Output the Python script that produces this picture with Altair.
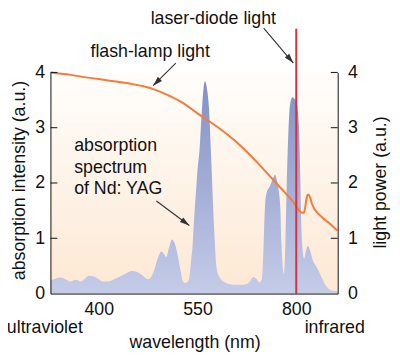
import math
import altair as alt
import numpy as np
import pandas as pd

# x scale breakpoints (nm) and the matching positions across the plot width
x_domain = [326.5, 400, 550, 800, 905]
x_range = [0, 49, 149, 249, 291]
x_ticks = [400, 550, 800]
y_ticks = [0, 1, 2, 3, 4]
inner_ticks = [1, 2, 3, 4]

# Nd:YAG absorption spectrum (a.u.)
abs_nm = [327, 334, 342.5, 350, 357.5, 365, 372.5, 379, 385, 392.5, 400, 406, 415, 427,
          439, 450, 458.5, 465, 475, 479.5, 485, 490, 495, 499, 502.5, 506.5, 511, 515.5,
          520, 524.5, 528, 532.5, 537.5, 540, 542.5, 545, 547.5, 550, 555, 560, 565, 569,
          574, 579, 582.5, 586, 590, 594, 597.5, 604, 617, 642, 665, 680, 692, 700, 706,
          712.5, 717.5, 721, 725, 733, 742, 746, 751, 756, 760, 762.5, 769, 772.5, 776,
          780, 784, 790, 796, 801, 807, 810, 813, 816, 820, 824, 829, 834, 842, 850,
          857.5, 865, 875, 885, 895, 905]
abs_val = [0.24, 0.27, 0.29, 0.25, 0.22, 0.25, 0.22, 0.27, 0.32, 0.31, 0.26, 0.22, 0.22, 0.28,
           0.35, 0.41, 0.39, 0.34, 0.26, 0.30, 0.46, 0.65, 0.76, 0.72, 0.66, 0.82, 0.98, 0.90,
           0.69, 0.40, 0.22, 0.19, 0.28, 0.57, 0.87, 1.4, 1.82, 2.24, 2.6, 3.2, 3.7, 3.84,
           3.7, 3.35, 2.8, 2.2, 1.5, 0.9, 0.5, 0.32, 0.21, 0.16, 0.16, 0.2, 0.3, 0.26, 0.2,
           0.25, 0.9, 1.6, 1.82, 1.94, 2.1, 2.15, 2.05, 1.85, 1.5, 0.9, 0.35, 0.9, 2.0,
           2.9, 3.4, 3.55, 3.52, 3.45, 3.0, 2.2, 1.2, 0.8, 0.63, 0.75, 0.86, 0.8, 0.6, 0.5,
           0.4, 0.28, 0.14, 0.07, 0.05, 0.04]

# flash-lamp light power (a.u.)
lamp_nm = [327.5, 340, 355, 375, 400, 422.5, 450, 467.5, 485, 505, 527.5, 550, 583, 625,
           667, 708, 750, 775, 792, 804, 812.5, 819, 822.5, 826, 830, 835, 840, 846, 855,
           867, 875, 882.5, 890, 904]
lamp_val = [4.0, 3.98, 3.96, 3.92, 3.88, 3.84, 3.79, 3.75, 3.69, 3.59, 3.45, 3.26, 3.1, 2.88,
            2.62, 2.32, 1.99, 1.8, 1.66, 1.53, 1.47, 1.46, 1.55, 1.72, 1.79, 1.74, 1.62, 1.53,
            1.45, 1.37, 1.32, 1.28, 1.23, 1.14]

# laser-diode line
laser_nm = [800]
laser_top = [4.79]

# annotation arrows: start -> tip (nm, a.u.)
arrow_id = ["laser", "flash", "yag"]
arrow_x0 = [717.5, 517, 487.5]
arrow_y0 = [4.8, 4.17, 1.675]
arrow_x1 = [792.5, 482.5, 537.5]
arrow_y1 = [4.17, 3.76, 1.23]

# annotation texts
center_text = ["laser-diode light", "flash-lamp light", "ultraviolet", "infrared"]
center_x = [590, 478, 318, 897.5]
center_y = [4.97, 4.36, -0.62, -0.62]
left_text = ["absorption", "spectrum", "of Nd: YAG"]
left_x = [362.5, 362.5, 362.5]
left_y = [2.66, 2.27, 1.89]

W, H = 291, 224
FONT = "Liberation Sans"
INK = "#111111"

xs = alt.Scale(domain=x_domain, range=x_range, nice=False, zero=False)
ys = alt.Scale(domain=[0, 4], nice=False)

x_axis = alt.Axis(
    values=x_ticks, title="wavelength (nm)", grid=False, ticks=False, tickSize=0,
    labelPadding=7, domainColor=INK, titleX=146, titleY=50, titleBaseline="middle",
    labelFlush=False, labelOverlap=False, zindex=1)


def X(field):
    return alt.X(field, scale=xs, axis=x_axis)


abs_df = pd.DataFrame({"nm": abs_nm, "v": abs_val})
lamp_df = pd.DataFrame({"nm": lamp_nm, "v": lamp_val})

bg = alt.Chart(pd.DataFrame({"x": [x_domain[0]], "x2": [x_domain[-1]], "y": [0], "y2": [4]})).mark_rect(
    color=alt.Gradient(gradient="linear", x1=0, x2=0, y1=0, y2=1,
                       stops=[alt.GradientStop(color="#fffefc", offset=0),
                              alt.GradientStop(color="#fde8d3", offset=1)])
).encode(
    x=X("x:Q"), x2="x2:Q",
    y=alt.Y("y:Q", scale=ys, axis=None), y2="y2:Q",
)

area = alt.Chart(abs_df).mark_area(
    interpolate="monotone",
    color=alt.Gradient(gradient="linear", x1=0, x2=0, y1=0, y2=1,
                       stops=[alt.GradientStop(color="#8290c6", offset=0),
                              alt.GradientStop(color="#c5cce8", offset=1)])
).encode(
    x=X("nm:Q"),
    y=alt.Y("v:Q", scale=ys, axis=alt.Axis(
        orient="left", values=y_ticks, title="absorption intensity (a.u.)", grid=False,
        ticks=False, tickSize=0, labelPadding=6, domainColor=INK, zindex=1,
        titleAngle=270, titleX=-31, titleY=109, titleBaseline="middle", titleAlign="center")),
)

lamp = alt.Chart(lamp_df).mark_line(interpolate="monotone", color="#f47b3a", strokeWidth=2).encode(
    x=X("nm:Q"),
    y=alt.Y("v:Q", scale=ys, axis=alt.Axis(
        orient="right", values=y_ticks, title="light power (a.u.)", grid=False,
        ticks=False, tickSize=0, labelPadding=10, domainColor=INK, zindex=1,
        titleAngle=270, titleX=43, titleY=111, titleBaseline="middle", titleAlign="center")),
)

laser = alt.Chart(pd.DataFrame({"nm": laser_nm, "y": [0], "y2": laser_top})).mark_rule(
    color="#d9303c", strokeWidth=2
).encode(
    x=X("nm:Q"),
    y=alt.Y("y:Q", scale=ys, axis=None), y2="y2:Q",
)

tick_df = pd.DataFrame({"v": inner_ticks})
ticks_left = alt.Chart(tick_df).mark_rule(color=INK, strokeWidth=1).encode(
    y=alt.Y("v:Q", scale=ys, axis=None), x=alt.value(0), x2=alt.value(7))
ticks_right = alt.Chart(tick_df).mark_rule(color=INK, strokeWidth=1).encode(
    y=alt.Y("v:Q", scale=ys, axis=None), x=alt.value(W - 7), x2=alt.value(W))

# arrows
rows = []
heads = []
for i, a in enumerate(arrow_id):
    rows.append({"id": a, "o": 0, "nm": arrow_x0[i], "v": arrow_y0[i]})
    rows.append({"id": a, "o": 1, "nm": arrow_x1[i], "v": arrow_y1[i]})
    px0 = np.interp(arrow_x0[i], x_domain, x_range)
    px1 = np.interp(arrow_x1[i], x_domain, x_range)
    py0 = H - arrow_y0[i] / 4 * H
    py1 = H - arrow_y1[i] / 4 * H
    ang = math.degrees(math.atan2(py1 - py0, px1 - px0)) % 360
    heads.append({"nm": arrow_x1[i], "v": arrow_y1[i], "angle": ang})

arrow_lines = alt.Chart(pd.DataFrame(rows)).mark_line(color="#333333", strokeWidth=1.1).encode(
    x=X("nm:Q"),
    y=alt.Y("v:Q", scale=ys, axis=None),
    detail="id:N", order="o:Q",
)
arrow_heads = alt.Chart(pd.DataFrame(heads)).mark_point(
    shape="M0,0L-1,-0.3L-1,0.3Z", filled=True, size=380, color="#333333", opacity=1
).encode(
    x=X("nm:Q"),
    y=alt.Y("v:Q", scale=ys, axis=None),
    angle=alt.Angle("angle:Q", scale=None),
)

texts_c = alt.Chart(pd.DataFrame({"t": center_text, "nm": center_x, "v": center_y})).mark_text(
    font=FONT, fontSize=18, color=INK, align="center", baseline="middle"
).encode(
    x=X("nm:Q"),
    y=alt.Y("v:Q", scale=ys, axis=None),
    text="t:N",
)
texts_l = alt.Chart(pd.DataFrame({"t": left_text, "nm": left_x, "v": left_y})).mark_text(
    font=FONT, fontSize=18, color=INK, align="left", baseline="middle"
).encode(
    x=X("nm:Q"),
    y=alt.Y("v:Q", scale=ys, axis=None),
    text="t:N",
)

chart = alt.layer(
    bg, area, lamp, laser, ticks_left, ticks_right, arrow_lines, arrow_heads, texts_c, texts_l
).resolve_scale(y="independent").properties(
    width=W, height=H, autosize="none",
    padding={"left": 43, "top": 63, "right": 55, "bottom": 62},
).configure_view(stroke=None).configure_axis(
    labelFont=FONT, labelFontSize=18, labelColor=INK,
    titleFont=FONT, titleFontSize=18, titleColor=INK, titleFontWeight="normal",
    domainWidth=1,
)

chart.save("out.html", embed_options={"renderer": "svg", "actions": False})
